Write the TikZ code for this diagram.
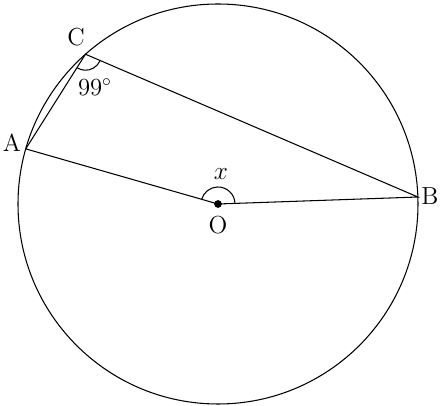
\documentclass[tikz,border=0pt]{standalone}
\usetikzlibrary{angles}
\begin{document}
\begin{tikzpicture}[font=\fontsize{14}{17}\selectfont, line width=0.6pt]
\useasboundingbox (-4.36,-4.04) rectangle (4.44,4.08);

\def \rr{4};

\coordinate (O) at (0,0);
\coordinate (A) at (164:\rr);
\coordinate (B) at (2:\rr);
\coordinate (C) at (131.5:\rr);

\draw (O) circle[radius=\rr];
\draw (A) -- (O) -- (B) -- (C) -- (A);
\fill (O) circle[radius=2.2pt];

\pic [draw, angle radius=0.32cm] {angle = A--C--B};
\pic [draw, angle radius=0.34cm] {angle = B--O--A};

\node (lA) at (-4.12,1.22) {A};
\node (lB) at (4.24,0.16) {B};
\node (lC) at (-2.84,3.34) {C};
\node (lO) at (0,-0.42) {O};
\node (l99) at (-2.46,2.34) {99$^\circ$};
\node (lx) at (0.06,0.6) {$x$};
\end{tikzpicture}
\end{document}
